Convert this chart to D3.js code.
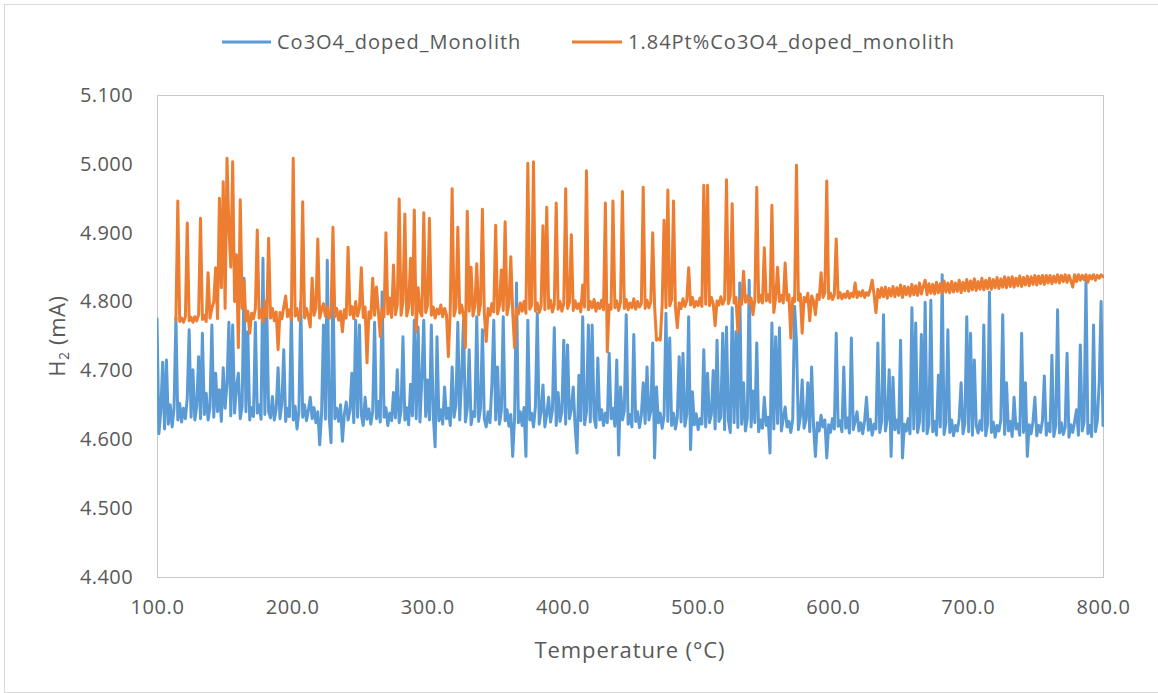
<!DOCTYPE html>
<html>
<head>
<meta charset="utf-8">
<script src="https://cdn.jsdelivr.net/npm/d3@7"></script>
<style>
  html, body { margin: 0; padding: 0; background: #fff; }
  svg { display: block; }
  text { font-family: "Open Sans", "Noto Sans", sans-serif; fill: #595959; }
</style>
</head>
<body>
<svg id="chart" width="1158" height="693"></svg>
<script>
// Temperature ramp (°C), shared sampling for both runs
const temperature = [
  100,101.4,102.8,104.2,105.6,107,108.4,109.8,111.2,112.6,
  114,115.4,116.8,118.2,119.6,121,122.4,123.8,125.2,126.6,
  128,129.4,130.8,132.2,133.6,135,136.4,137.8,139.2,140.6,
  142,143.4,144.8,146.2,147.6,149,150.4,151.8,153.2,154.6,
  156,157.4,158.8,160.2,161.6,163,164.4,165.8,167.2,168.6,
  170,171.4,172.8,174.2,175.6,177,178.4,179.8,181.2,182.6,
  184,185.4,186.8,188.2,189.6,191,192.4,193.8,195.2,196.6,
  198,199.4,200.8,202.2,203.6,205,206.4,207.8,209.2,210.6,
  212,213.4,214.8,216.2,217.6,219,220.4,221.8,223.2,224.6,
  226,227.4,228.8,230.2,231.6,233,234.4,235.8,237.2,238.6,
  240,241.4,242.8,244.2,245.6,247,248.4,249.8,251.2,252.6,
  254,255.4,256.8,258.2,259.6,261,262.4,263.8,265.2,266.6,
  268,269.4,270.8,272.2,273.6,275,276.4,277.8,279.2,280.6,
  282,283.4,284.8,286.2,287.6,289,290.4,291.8,293.2,294.6,
  296,297.4,298.8,300.2,301.6,303,304.4,305.8,307.2,308.6,
  310,311.4,312.8,314.2,315.6,317,318.4,319.8,321.2,322.6,
  324,325.4,326.8,328.2,329.6,331,332.4,333.8,335.2,336.6,
  338,339.4,340.8,342.2,343.6,345,346.4,347.8,349.2,350.6,
  352,353.4,354.8,356.2,357.6,359,360.4,361.8,363.2,364.6,
  366,367.4,368.8,370.2,371.6,373,374.4,375.8,377.2,378.6,
  380,381.4,382.8,384.2,385.6,387,388.4,389.8,391.2,392.6,
  394,395.4,396.8,398.2,399.6,401,402.4,403.8,405.2,406.6,
  408,409.4,410.8,412.2,413.6,415,416.4,417.8,419.2,420.6,
  422,423.4,424.8,426.2,427.6,429,430.4,431.8,433.2,434.6,
  436,437.4,438.8,440.2,441.6,443,444.4,445.8,447.2,448.6,
  450,451.4,452.8,454.2,455.6,457,458.4,459.8,461.2,462.6,
  464,465.4,466.8,468.2,469.6,471,472.4,473.8,475.2,476.6,
  478,479.4,480.8,482.2,483.6,485,486.4,487.8,489.2,490.6,
  492,493.4,494.8,496.2,497.6,499,500.4,501.8,503.2,504.6,
  506,507.4,508.8,510.2,511.6,513,514.4,515.8,517.2,518.6,
  520,521.4,522.8,524.2,525.6,527,528.4,529.8,531.2,532.6,
  534,535.4,536.8,538.2,539.6,541,542.4,543.8,545.2,546.6,
  548,549.4,550.8,552.2,553.6,555,556.4,557.8,559.2,560.6,
  562,563.4,564.8,566.2,567.6,569,570.4,571.8,573.2,574.6,
  576,577.4,578.8,580.2,581.6,583,584.4,585.8,587.2,588.6,
  590,591.4,592.8,594.2,595.6,597,598.4,599.8,601.2,602.6,
  604,605.4,606.8,608.2,609.6,611,612.4,613.8,615.2,616.6,
  618,619.4,620.8,622.2,623.6,625,626.4,627.8,629.2,630.6,
  632,633.4,634.8,636.2,637.6,639,640.4,641.8,643.2,644.6,
  646,647.4,648.8,650.2,651.6,653,654.4,655.8,657.2,658.6,
  660,661.4,662.8,664.2,665.6,667,668.4,669.8,671.2,672.6,
  674,675.4,676.8,678.2,679.6,681,682.4,683.8,685.2,686.6,
  688,689.4,690.8,692.2,693.6,695,696.4,697.8,699.2,700.6,
  702,703.4,704.8,706.2,707.6,709,710.4,711.8,713.2,714.6,
  716,717.4,718.8,720.2,721.6,723,724.4,725.8,727.2,728.6,
  730,731.4,732.8,734.2,735.6,737,738.4,739.8,741.2,742.6,
  744,745.4,746.8,748.2,749.6,751,752.4,753.8,755.2,756.6,
  758,759.4,760.8,762.2,763.6,765,766.4,767.8,769.2,770.6,
  772,773.4,774.8,776.2,777.6,779,780.4,781.8,783.2,784.6,
  786,787.4,788.8,790.2,791.6,793,794.4,795.8,797.2,798.6,
  800
];

// H2 signal (mA) for the Co3O4 doped monolith
const co3o4Monolith = [
  4.775,4.608,4.640,4.712,4.615,4.715,4.622,4.650,4.618,4.645,
  4.776,4.628,4.652,4.625,4.645,4.630,4.660,4.759,4.632,4.701,
  4.628,4.648,4.720,4.630,4.754,4.636,4.667,4.628,4.646,4.766,
  4.632,4.696,4.640,4.672,4.626,4.704,4.645,4.680,4.770,4.634,
  4.766,4.638,4.676,4.696,4.630,4.648,4.834,4.640,4.756,4.628,
  4.646,4.633,4.770,4.638,4.650,4.629,4.863,4.636,4.790,4.640,
  4.631,4.662,4.628,4.644,4.704,4.630,4.652,4.730,4.626,4.645,
  4.633,4.783,4.628,4.648,4.615,4.640,4.799,4.632,4.650,4.627,
  4.642,4.661,4.630,4.646,4.624,4.640,4.592,4.638,4.766,4.629,
  4.860,4.632,4.595,4.834,4.630,4.645,4.626,4.650,4.597,4.636,
  4.654,4.628,4.642,4.696,4.624,4.773,4.632,4.766,4.636,4.620,
  4.661,4.629,4.644,4.622,4.640,4.770,4.630,4.655,4.625,4.814,
  4.632,4.646,4.620,4.638,4.627,4.668,4.631,4.701,4.624,4.642,
  4.749,4.628,4.646,4.621,4.680,4.634,4.773,4.630,4.763,4.625,
  4.690,4.773,4.633,4.686,4.628,4.766,4.636,4.589,4.749,4.627,
  4.643,4.622,4.676,4.630,4.645,4.620,4.705,4.632,4.650,4.770,
  4.628,4.690,4.773,4.625,4.644,4.730,4.621,4.640,4.633,4.778,
  4.626,4.645,4.759,4.630,4.618,4.640,4.624,4.680,4.773,4.628,
  4.705,4.622,4.641,4.778,4.627,4.643,4.619,4.636,4.575,4.632,
  4.827,4.624,4.640,4.620,4.646,4.575,4.773,4.628,4.638,4.618,
  4.647,4.783,4.622,4.640,4.679,4.618,4.636,4.661,4.625,4.642,
  4.762,4.620,4.668,4.626,4.640,4.744,4.622,4.737,4.630,4.644,
  4.676,4.618,4.580,4.693,4.627,4.778,4.621,4.640,4.766,4.625,
  4.766,4.632,4.617,4.718,4.628,4.643,4.620,4.638,4.624,4.725,
  4.630,4.645,4.619,4.715,4.577,4.676,4.628,4.641,4.781,4.622,
  4.636,4.618,4.752,4.626,4.640,4.617,4.635,4.682,4.623,4.705,
  4.628,4.641,4.740,4.573,4.676,4.624,4.638,4.616,4.634,4.783,
  4.626,4.747,4.620,4.638,4.615,4.632,4.720,4.625,4.725,4.619,
  4.636,4.778,4.585,4.669,4.621,4.637,4.614,4.630,4.622,4.730,
  4.618,4.696,4.624,4.636,4.700,4.615,4.744,4.626,4.632,4.754,
  4.614,4.763,4.628,4.610,4.791,4.624,4.756,4.617,4.827,4.622,
  4.682,4.612,4.630,4.831,4.618,4.670,4.624,4.740,4.611,4.628,
  4.616,4.661,4.620,4.632,4.580,4.769,4.615,4.749,4.623,4.762,
  4.612,4.630,4.647,4.618,4.626,4.610,4.629,4.793,4.740,4.614,
  4.632,4.686,4.616,4.628,4.682,4.611,4.705,4.620,4.575,4.624,
  4.612,4.635,4.618,4.628,4.573,4.621,4.610,4.630,4.615,4.754,
  4.619,4.627,4.611,4.705,4.616,4.631,4.609,4.747,4.614,4.626,
  4.640,4.612,4.624,4.608,4.627,4.661,4.613,4.629,4.606,4.622,
  4.615,4.740,4.610,4.626,4.781,4.612,4.630,4.701,4.575,4.690,
  4.614,4.628,4.609,4.744,4.573,4.622,4.612,4.630,4.608,4.791,
  4.615,4.769,4.610,4.625,4.752,4.612,4.799,4.608,4.622,4.802,
  4.611,4.626,4.606,4.693,4.618,4.839,4.607,4.624,4.759,4.610,
  4.628,4.605,4.620,4.612,4.630,4.682,4.608,4.623,4.778,4.611,
  4.754,4.606,4.715,4.620,4.609,4.627,4.613,4.766,4.605,4.622,
  4.814,4.610,4.625,4.603,4.620,4.612,4.628,4.781,4.607,4.682,
  4.612,4.626,4.604,4.661,4.615,4.622,4.606,4.754,4.610,4.682,
  4.575,4.621,4.608,4.626,4.661,4.605,4.620,4.610,4.627,4.692,
  4.606,4.623,4.611,4.722,4.604,4.620,4.788,4.609,4.624,4.607,
  4.618,4.725,4.603,4.621,4.610,4.626,4.643,4.606,4.737,4.612,
  4.625,4.831,4.608,4.620,4.604,4.766,4.611,4.627,4.682,4.800,
  4.620
];

// H2 signal (mA) for the 1.84 % Pt monolith (logging starts at 114 °C)
const ptCo3o4Monolith = [
  null,null,null,null,null,null,null,null,null,null,
  4.773,4.946,4.771,4.776,4.770,4.778,4.914,4.772,4.777,4.770,
  4.778,4.772,4.781,4.921,4.774,4.780,4.771,4.842,4.776,4.790,
  4.800,4.849,4.775,4.950,4.820,4.974,4.790,5.008,4.908,4.850,
  5.003,4.800,4.868,4.733,4.948,4.790,4.830,4.772,4.786,4.754,
  4.783,4.775,4.790,4.904,4.776,4.788,4.770,4.800,4.778,4.892,
  4.776,4.790,4.772,4.785,4.730,4.784,4.775,4.792,4.808,4.778,
  4.788,4.774,5.008,4.779,4.790,4.773,4.786,4.945,4.776,4.790,
  4.778,4.763,4.834,4.780,4.791,4.891,4.776,4.788,4.797,4.779,
  4.792,4.775,4.787,4.908,4.778,4.790,4.773,4.786,4.756,4.788,
  4.776,4.879,4.781,4.793,4.775,4.800,4.779,4.790,4.849,4.777,
  4.792,4.711,4.785,4.776,4.834,4.780,4.821,4.786,4.749,4.790,
  4.778,4.900,4.782,4.805,4.777,4.853,4.781,4.795,4.949,4.780,
  4.800,4.927,4.779,4.792,4.863,4.781,4.933,4.756,4.820,4.786,
  4.779,4.929,4.784,4.795,4.921,4.780,4.792,4.776,4.789,4.782,
  4.795,4.778,4.790,4.781,4.720,4.787,4.964,4.779,4.792,4.908,
  4.783,4.795,4.780,4.733,4.931,4.786,4.850,4.779,4.794,4.855,
  4.781,4.796,4.934,4.784,4.742,4.790,4.780,4.797,4.785,4.911,
  4.782,4.794,4.846,4.787,4.916,4.781,4.796,4.865,4.784,4.733,
  4.790,4.782,4.798,4.786,4.800,4.783,5.001,4.789,4.795,5.003,
  4.786,4.798,4.784,4.793,4.910,4.788,4.937,4.790,4.802,4.785,
  4.796,4.943,4.789,4.800,4.786,4.797,4.964,4.790,4.799,4.897,
  4.787,4.801,4.790,4.797,4.785,4.824,4.792,4.990,4.788,4.800,
  4.791,4.803,4.786,4.798,4.790,4.802,4.788,4.943,4.727,4.795,
  4.789,4.946,4.791,4.801,4.787,4.799,4.960,4.790,4.803,4.788,
  4.798,4.791,4.804,4.789,4.800,4.792,4.797,4.966,4.790,4.802,
  4.791,4.800,4.900,4.793,4.744,4.746,4.744,4.795,4.918,4.791,
  4.962,4.794,4.803,4.946,4.792,4.762,4.798,4.790,4.804,4.793,
  4.801,4.849,4.795,4.806,4.792,4.800,4.794,4.805,4.793,4.969,
  4.796,4.969,4.794,4.806,4.797,4.765,4.801,4.795,4.807,4.796,
  4.803,4.977,4.797,4.808,4.942,4.798,4.806,4.756,4.802,4.796,
  4.844,4.799,4.808,4.797,4.805,4.781,4.803,4.966,4.799,4.809,
  4.798,4.878,4.801,4.810,4.799,4.940,4.784,4.806,4.850,4.800,
  4.809,4.798,4.856,4.802,4.810,4.747,4.805,4.800,4.998,4.802,
  4.811,4.754,4.806,4.800,4.812,4.772,4.808,4.801,4.781,4.810,
  4.803,4.842,4.806,4.813,4.975,4.804,4.812,4.803,4.810,4.891,
  4.805,4.813,4.804,4.811,4.806,4.815,4.805,4.812,4.807,4.827,
  4.806,4.814,4.808,4.816,4.806,4.813,4.809,4.818,4.831,4.810,
  4.784,4.818,4.806,4.820,4.807,4.821,4.805,4.819,4.808,4.822,
  4.807,4.820,4.809,4.824,4.806,4.822,4.810,4.821,4.808,4.825,
  4.810,4.823,4.809,4.827,4.811,4.822,4.831,4.810,4.826,4.812,
  4.825,4.811,4.828,4.813,4.826,4.812,4.830,4.814,4.827,4.813,
  4.829,4.814,4.827,4.815,4.831,4.813,4.828,4.816,4.832,4.815,
  4.830,4.817,4.833,4.816,4.829,4.818,4.834,4.817,4.831,4.819,
  4.834,4.818,4.832,4.820,4.835,4.819,4.833,4.821,4.836,4.820,
  4.835,4.822,4.836,4.821,4.834,4.823,4.837,4.822,4.835,4.824,
  4.837,4.823,4.836,4.825,4.838,4.824,4.837,4.826,4.838,4.825,
  4.838,4.827,4.838,4.826,4.837,4.828,4.839,4.827,4.838,4.829,
  4.839,4.828,4.838,4.830,4.821,4.839,4.829,4.839,4.831,4.838,
  4.832,4.839,4.828,4.838,4.833,4.839,4.831,4.838,4.834,4.839,
  4.836
];

const seriesNames = ["Co3O4_doped_Monolith", "1.84Pt%Co3O4_doped_monolith"];
const seriesColors = ["#5B9BD5", "#ED7D31"];
const xTicks = [100, 200, 300, 400, 500, 600, 700, 800];
const yTicks = [4.4, 4.5, 4.6, 4.7, 4.8, 4.9, 5.0, 5.1];

const W = 1158, H = 693;
const plot = { left: 157, right: 1103, top: 95, bottom: 577 };

const svg = d3.select("#chart");

// chart frame
svg.append("rect").attr("x", 0).attr("y", 0).attr("width", W).attr("height", H).attr("fill", "#fff");
svg.append("rect")
  .attr("x", 4.5).attr("y", 4.5).attr("width", W - 3).attr("height", H - 5)
  .attr("fill", "none").attr("stroke", "#d9d9d9").attr("stroke-width", 1);

const x = d3.scaleLinear().domain([100, 800]).range([plot.left, plot.right]);
const y = d3.scaleLinear().domain([4.4, 5.1]).range([plot.bottom, plot.top]);

// plot area border
svg.append("rect")
  .attr("x", plot.left + 0.5).attr("y", plot.top + 0.5)
  .attr("width", plot.right - plot.left).attr("height", plot.bottom - plot.top)
  .attr("fill", "none").attr("stroke", "#c9c9c9").attr("stroke-width", 1);

svg.append("clipPath").attr("id", "plot-clip")
  .append("rect")
  .attr("x", plot.left).attr("y", plot.top - 2)
  .attr("width", plot.right - plot.left + 1).attr("height", plot.bottom - plot.top + 4);

const series = [co3o4Monolith, ptCo3o4Monolith].map((vals, k) => ({
  name: seriesNames[k],
  color: seriesColors[k],
  points: temperature.map((t, i) => [t, vals[i]])
}));

const line = d3.line()
  .defined(d => d[1] != null)
  .x(d => x(d[0]))
  .y(d => y(d[1]));

svg.append("g").attr("clip-path", "url(#plot-clip)")
  .selectAll("path")
  .data(series)
  .join("path")
  .attr("d", d => line(d.points))
  .attr("fill", "none")
  .attr("stroke", d => d.color)
  .attr("stroke-width", 3)
  .attr("stroke-linejoin", "round")
  .attr("stroke-linecap", "round");

// axes
const yAxis = d3.axisLeft(y).tickValues(yTicks).tickFormat(d3.format(".3f")).tickSize(0).tickPadding(24);
const gy = svg.append("g").attr("transform", `translate(${plot.left},0)`).call(yAxis);
gy.select(".domain").remove();
gy.selectAll("text").attr("font-size", 20).attr("fill", "#595959")
  .attr("letter-spacing", "0.4px")
  .style("font-family", '"Open Sans", sans-serif');

const xAxis = d3.axisBottom(x).tickValues(xTicks).tickFormat(d3.format(".1f")).tickSize(0).tickPadding(23);
const gx = svg.append("g").attr("transform", `translate(0,${plot.bottom})`).call(xAxis);
gx.select(".domain").remove();
gx.selectAll("text").attr("font-size", 20).attr("fill", "#595959")
  .attr("letter-spacing", "0.6px")
  .style("font-family", '"Open Sans", sans-serif');

// axis titles
svg.append("text")
  .attr("x", (plot.left + plot.right) / 2).attr("y", 658)
  .attr("text-anchor", "middle").attr("font-size", 22)
  .attr("letter-spacing", "0.9px")
  .text("Temperature (°C)");

const yTitle = svg.append("text")
  .attr("transform", `translate(65,${(plot.top + plot.bottom) / 2}) rotate(-90)`)
  .attr("text-anchor", "middle").attr("font-size", 22)
  .attr("letter-spacing", "0.6px");
yTitle.append("tspan").text("H");
yTitle.append("tspan").attr("font-size", 14).attr("dy", 4).text("2");
yTitle.append("tspan").attr("dy", -4).text(" (mA)");

// legend
const legendItems = [
  { x0: 222, x1: 271, tx: 277 },
  { x0: 572, x1: 622, tx: 628 }
];
const lg = svg.append("g");
series.forEach((s, k) => {
  const it = legendItems[k];
  lg.append("line")
    .attr("x1", it.x0).attr("x2", it.x1).attr("y1", 42).attr("y2", 42)
    .attr("stroke", s.color).attr("stroke-width", 3);
  lg.append("text")
    .attr("x", it.tx).attr("y", 49).attr("font-size", 20)
    .attr("letter-spacing", "1px")
    .text(s.name);
});
</script>
</body>
</html>
